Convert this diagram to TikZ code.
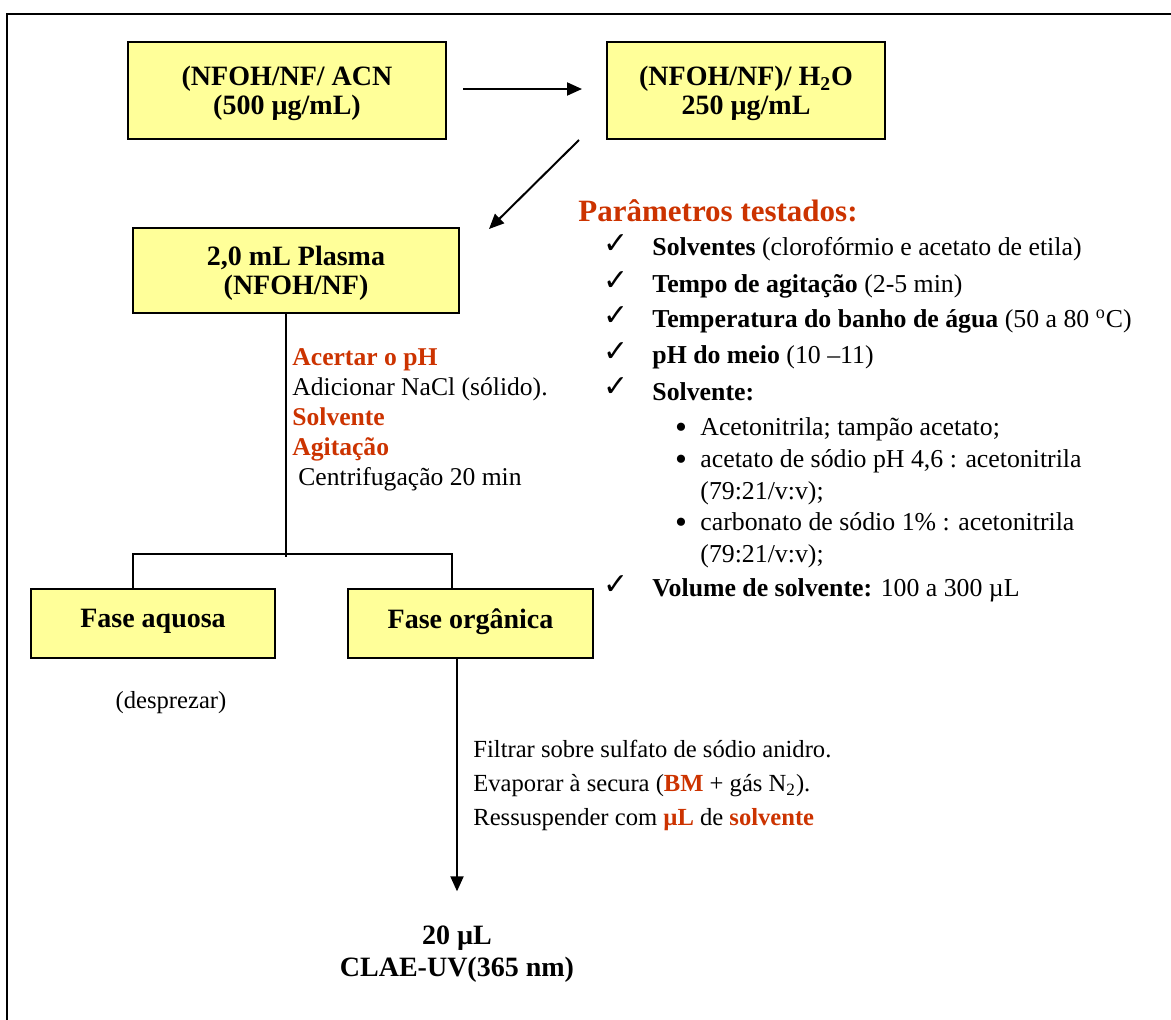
\documentclass[tikz,border=0pt]{standalone}
\usepackage{fontspec}
\setmainfont{Liberation Serif}
\newfontfamily\symfont{DejaVu Sans}
\usepackage{xcolor}
\usetikzlibrary{arrows.meta, positioning, calc}
\definecolor{boxyellow}{HTML}{FFFF99}
\definecolor{rust}{HTML}{CC3300}

\begin{document}
\begin{tikzpicture}[x=0.5pt, y=-0.5pt,
    box/.style={draw, fill=boxyellow, line width=1pt, align=center, inner sep=0pt,
        text depth=0pt, font=\fontsize{14}{14.5}\selectfont\bfseries},
    arr/.style={line width=1pt, -{Triangle[length=7.5pt, width=6.5pt]}},
    txt/.style={inner sep=0pt, align=left, font=\fontsize{12.3}{15}\selectfont},
    par/.style={txt, font=\fontsize{12.9}{16}\selectfont},
    hl/.style={text=rust}]
    \useasboundingbox (0,0) rectangle (1171,1019);
    \draw[line width=1pt] (7,1040) -- (7,14) -- (1190,14);

    % solutions and sample
    \node[box, minimum width=159pt, minimum height=48.5pt] (acn) at (287,90.5) {(NFOH/NF/ ACN\\(500 µg/mL)};
    \node[box, minimum width=139pt, minimum height=48.5pt] (h2o) at (746,90.5) {(NFOH/NF)/ H\textsubscript{2}O\\250 µg/mL};
    \node[box, minimum width=163pt, minimum height=42.5pt] (plasma) at (296,270.5) {2,0 mL Plasma\\(NFOH/NF)};
    \draw[arr] ([xshift=8pt,yshift=0.75pt]acn.east) -- ([xshift=-12pt,yshift=0.75pt]h2o.west);
    \draw[arr] ([xshift=-13.5pt]h2o.south west) -- ([xshift=14.5pt,yshift=-1pt]plasma.north east);

    \node[txt, anchor=north west, font=\fontsize{12.8}{15}\selectfont] (steps) at (292,348) {\textcolor{rust}{\bfseries Acertar o pH}\\
        Adicionar NaCl (sólido).\\
        \textcolor{rust}{\bfseries Solvente}\\
        \textcolor{rust}{\bfseries Agitação}\\
        \hspace{3pt}Centrifugação 20 min};

    % phases
    \node[box, minimum width=122pt, minimum height=34.5pt] (aquosa) at (153,623.5) {\raisebox{5pt}{Fase aquosa}};
    \node[box, minimum width=122.5pt, minimum height=34.5pt] (organica) at (470.5,623.5) {\raisebox{5pt}{Fase orgânica}};
    \coordinate (split) at (286,554);
    \coordinate (jl) at (133,554);
    \coordinate (jr) at (452,554);
    \draw[line width=1pt] (plasma.south -| split) -- ([yshift=-1.5pt]split);
    \draw[line width=1pt] (aquosa.north -| jl) -- (jl) -- (jr) -- (organica.north -| jr);
    \node[txt] (desp) at (171,703) {(desprezar)};

    \node[txt, anchor=north west, font=\fontsize{12.3}{17}\selectfont] (prep) at (473,740) {Filtrar sobre sulfato de sódio anidro.\\
        Evaporar à secura (\textcolor{rust}{\bfseries BM} + gás N\textsubscript{2}).\\
        Ressuspender com \textcolor{rust}{\bfseries µL} de \textcolor{rust}{\bfseries solvente}};

    \node[align=center, inner sep=0pt, font=\fontsize{14}{16}\selectfont\bfseries] (clae) at (457,954) {20 µL\\CLAE-UV(365 nm)};
    \draw[arr] (organica.south -| clae.north) -- ([yshift=17pt]clae.north);

    % tested parameters
    \node[anchor=west, inner sep=0pt, hl, font=\fontsize{15.5}{18}\selectfont\bfseries] (param) at (578,211) {Parâmetros testados:};
    \foreach \y/\txt [count=\i] in {249/{\textbf{Solventes} (clorofórmio e acetato de etila)},
        286/{\textbf{Tempo de agitação} (2-5 min)},
        321/{\textbf{Temperatura do banho de água} (50 a 80 \textsuperscript{o}C)},
        357/{\textbf{pH do meio} (10 –11)},
        392/{\textbf{Solvente:}},
        590/{\textbf{Volume de solvente:} 100 a 300 µL}}
    {
        \node[inner sep=0pt, font=\symfont\fontsize{15}{15}\selectfont] (chk\i) at (616,\y-5) {✓};
        \node[par, anchor=west] (par\i) at (652,\y) {\txt};
    }
    \foreach \y/\txt [count=\i] in {427/{Acetonitrila; tampão acetato;},
        459/{acetato de sódio pH 4,6 : acetonitrila\\(79:21/v:v);},
        522/{carbonato de sódio 1\% : acetonitrila\\(79:21/v:v);}}
    {
        \node[inner sep=0pt, font=\fontsize{17}{17}\selectfont] (bul\i) at (681,\y+4) {\textbullet};
        \node[par, anchor=north west] (sol\i) at (700,\y-10) {\txt};
    }
\end{tikzpicture}
\end{document}
